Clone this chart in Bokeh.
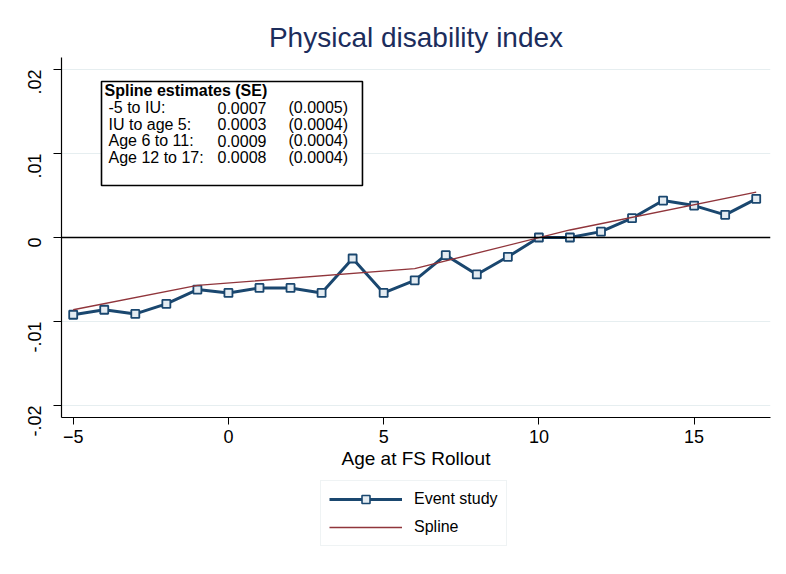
import math
from bokeh.plotting import figure
from bokeh.layouts import column
from bokeh.models import Range1d, Span, Label, BoxAnnotation, Legend, LegendItem, FixedTicker
from bokeh.embed import file_html
from bokeh.resources import INLINE

# ---- data ----
ages = [-5, -4, -3, -2, -1, 0, 1, 2, 3, 4, 5, 6, 7, 8, 9, 10, 11, 12, 13, 14, 15, 16, 17]
event_study = [-0.0092, -0.0086, -0.0091, -0.0079, -0.0062, -0.0066, -0.0060, -0.0060,
               -0.0066, -0.0025, -0.0066, -0.0051, -0.0021, -0.0044, -0.0023, 0.0000,
               0.0000, 0.0007, 0.0023, 0.0044, 0.0038, 0.0027, 0.0046]
spline_x = [-5, -1, 6, 11, 17]
spline_y = [-0.0086, -0.0057, -0.0037, 0.0009, 0.0054]
x_ticks = [-5, 0, 5, 10, 15]
y_ticks = [-0.02, -0.01, 0, 0.01, 0.02]
y_tick_labels = ["-.02", "-.01", "0", ".01", ".02"]
box_rows = [
    ("-5 to IU:", "0.0007", "(0.0005)"),
    ("IU to age 5:", "0.0003", "(0.0004)"),
    ("Age 6 to 11:", "0.0009", "(0.0004)"),
    ("Age 12 to 17:", "0.0008", "(0.0004)"),
]

FONT = "Liberation Sans"
NAVY = "#1a476f"
MAROON = "#90353b"
W = 786

X_RANGE = Range1d(-5.377, 17.46)
p = figure(width=W, height=478, output_backend="svg", toolbar_location=None,
           x_range=X_RANGE, y_range=Range1d(-0.02143, 0.02143),
           min_border_left=61, min_border_right=16, min_border_top=57, min_border_bottom=61)

p.title.text = "Physical disability index"
p.title.text_font = FONT
p.title.text_font_size = "28px"
p.title.text_font_style = "normal"
p.title.text_color = "#1c2d5c"
p.title.align = "center"

p.outline_line_color = None
p.background_fill_color = "white"
p.border_fill_color = "white"

# axes
p.xaxis.ticker = FixedTicker(ticks=x_ticks)
p.yaxis.ticker = FixedTicker(ticks=y_ticks)
p.yaxis.major_label_overrides = {t: l for t, l in zip(y_ticks, y_tick_labels)}
p.yaxis.major_label_orientation = math.pi / 2
p.xaxis.axis_label = "Age at FS Rollout"
for ax in (p.xaxis[0], p.yaxis[0]):
    ax.axis_line_color = "black"
    ax.axis_line_width = 1.2
    ax.major_tick_line_color = "black"
    ax.major_tick_out = 7
    ax.major_tick_in = 0
    ax.minor_tick_line_color = None
    ax.major_label_text_font = FONT
    ax.major_label_text_font_size = "18px"
    ax.major_label_text_color = "black"
p.yaxis.major_tick_out = 8
p.yaxis.major_label_standoff = 19
p.xaxis.axis_label_text_font = FONT
p.xaxis.axis_label_text_font_size = "19px"
p.xaxis.axis_label_text_font_style = "normal"
p.xaxis.axis_label_text_color = "black"
p.xaxis.axis_label_standoff = 2

p.xgrid.grid_line_color = None
p.ygrid.grid_line_color = "#e6eef0"
p.ygrid.grid_line_width = 1

# zero line
p.add_layout(Span(location=0, dimension="width", line_color="black", line_width=1.5))

# series
r_line = p.line(ages, event_study, line_color=NAVY, line_width=3)
r_pts = p.scatter(ages, event_study, marker="square", size=8, line_color=NAVY,
                  line_width=1.8, fill_color="#e4ecf2")
r_spl = p.line(spline_x, spline_y, line_color=MAROON, line_width=1.4)

# text box (annotation), placed via pixel -> data conversion
def px_to_x(px):
    return -5 + (px - 72.7) / 31.05

def py_to_y(py):
    return (236 - py) / 8400.0

p.add_layout(BoxAnnotation(left=px_to_x(101), right=px_to_x(362), top=py_to_y(80), bottom=py_to_y(184),
                           fill_color="white", fill_alpha=1.0, line_color="black",
                           line_alpha=1.0, line_width=1.6))
p.add_layout(Label(x=px_to_x(104), y=py_to_y(89), text="Spline estimates (SE)", text_font=FONT,
                   text_font_size="16px", text_font_style="bold", text_baseline="middle",
                   text_color="black"))
row_y = [106, 122.5, 139, 155.5]
for (a, b, c), ry in zip(box_rows, row_y):
    for txt, cx in ((a, 108), (b, 217), (c, 288)):
        p.add_layout(Label(x=px_to_x(cx), y=py_to_y(ry), text=txt, text_font=FONT,
                           text_font_size="16px", text_baseline="middle", text_color="black"))

# legend strip below the plot: its own small canvas; the sample renderers there
# hold the series data but lie outside that canvas' visible range.
q = figure(width=W, height=94, output_backend="svg", toolbar_location=None,
           x_axis_type=None, y_axis_type=None, min_border=0,
           x_range=Range1d(100, 101), y_range=Range1d(100, 101))
q.outline_line_color = None
q.xgrid.grid_line_color = None
q.ygrid.grid_line_color = None
l1 = q.line(ages, event_study, line_color=NAVY, line_width=3)
l2 = q.scatter(ages, event_study, marker="square", size=7, line_color=NAVY, line_width=1.6,
               fill_color="#e4ecf2")
l3 = q.line(spline_x, spline_y, line_color=MAROON, line_width=1.4)

legend = Legend(items=[LegendItem(label="Event study", renderers=[l1, l2]),
                       LegendItem(label="Spline", renderers=[l3])],
                location=(259, 26), orientation="vertical")
legend.label_text_font = FONT
legend.label_text_font_size = "16px"
legend.label_text_color = "black"
legend.glyph_width = 73
legend.glyph_height = 20
legend.spacing = 8
legend.padding = 8
legend.label_standoff = 12
legend.border_line_color = "#dfe8ea"
legend.border_line_width = 1
legend.margin = 0
q.add_layout(legend, "center")

layout = column(p, q, spacing=0)
open("out.html", "w").write(file_html(layout, INLINE))
